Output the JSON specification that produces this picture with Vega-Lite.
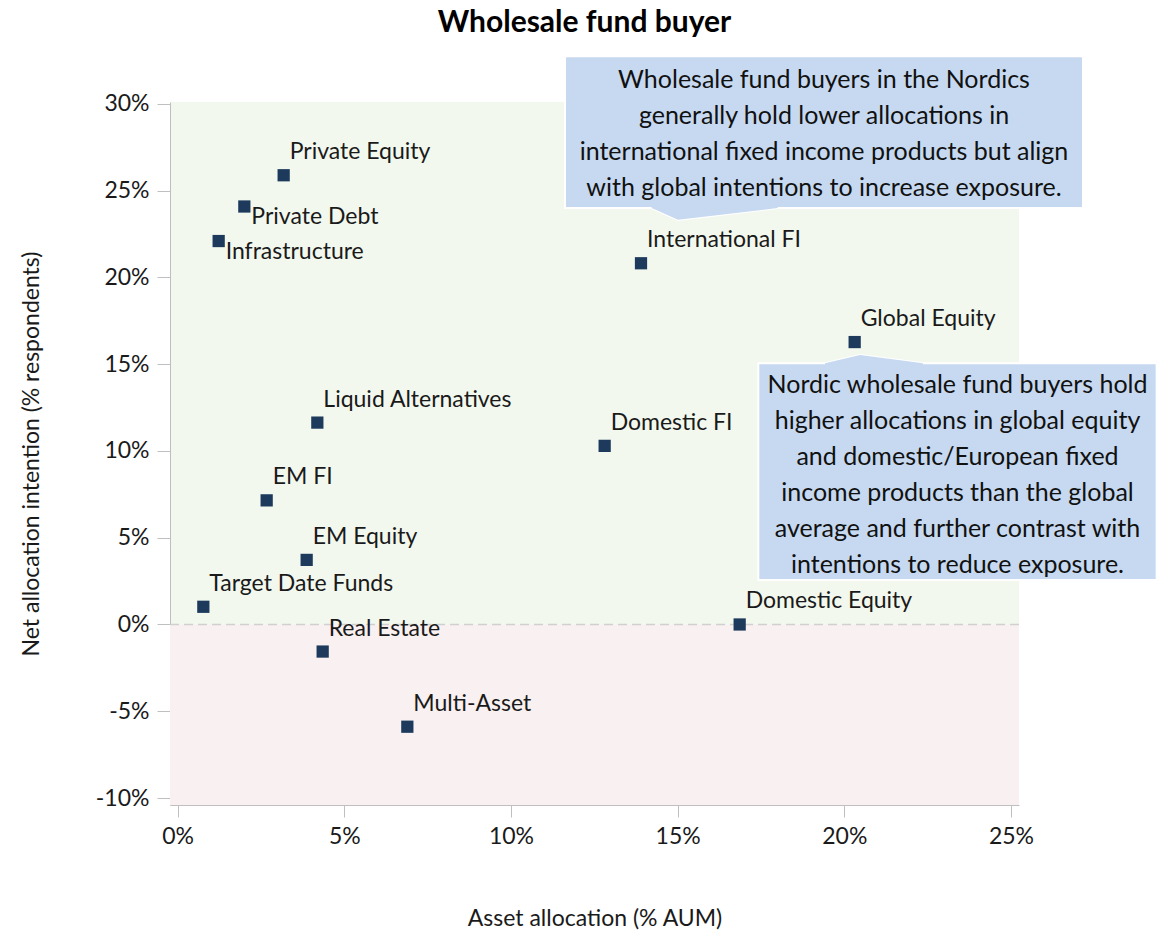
{
  "$schema": "https://vega.github.io/schema/vega-lite/v6.json",
  "width": 849,
  "height": 703,
  "autosize": {"type": "none"},
  "padding": {"left": 170, "top": 102, "right": 151, "bottom": 128},
  "background": "white",
  "config": {
    "font": "Lato",
    "view": {"fill": "#f3f8ee", "stroke": null},
    "axis": {"grid": false, "domainColor": "#bfbfbf", "tickColor": "#bfbfbf", "labelFont": "Lato", "titleFont": "Lato", "labelColor": "#1a1a1a", "titleColor": "#1a1a1a", "labelFontSize": 23, "titleFontSize": 23, "titleFontWeight": "normal"}
  },
  "title": {"text": "Wholesale fund buyer", "font": "Lato", "fontSize": 30, "fontWeight": "bold", "color": "#000000", "anchor": "middle", "frame": "group", "dx": -10, "offset": 17},
  "datasets": {
    "points": [
      {"name": "Private Equity", "alloc": 3.18, "intent": 25.88, "pos": "above"},
      {"name": "Private Debt", "alloc": 2.0, "intent": 24.08, "pos": "below"},
      {"name": "Infrastructure", "alloc": 1.23, "intent": 22.09, "pos": "below"},
      {"name": "International FI", "alloc": 13.9, "intent": 20.81, "pos": "above"},
      {"name": "Global Equity", "alloc": 20.31, "intent": 16.27, "pos": "above"},
      {"name": "Liquid Alternatives", "alloc": 4.19, "intent": 11.63, "pos": "above"},
      {"name": "Domestic FI", "alloc": 12.81, "intent": 10.29, "pos": "above"},
      {"name": "EM FI", "alloc": 2.67, "intent": 7.15, "pos": "above"},
      {"name": "EM Equity", "alloc": 3.87, "intent": 3.72, "pos": "above"},
      {"name": "Target Date Funds", "alloc": 0.77, "intent": 1.02, "pos": "above"},
      {"name": "Domestic Equity", "alloc": 16.86, "intent": 0.0, "pos": "above"},
      {"name": "Real Estate", "alloc": 4.35, "intent": -1.56, "pos": "above"},
      {"name": "Multi-Asset", "alloc": 6.89, "intent": -5.89, "pos": "above"}
    ],
    "boxes": [
      {"id": "a", "x1": 11.62, "x2": 27.16, "y1": 23.99, "y2": 32.73, "cx": 19.39, "cy": 31.38, "lines": ["Wholesale fund buyers in the Nordics", "generally hold lower allocations in", "international fixed income products but align", "with global intentions to increase exposure."]},
      {"id": "b", "x1": 17.42, "x2": 29.37, "y1": 2.56, "y2": 15.05, "cx": 23.395, "cy": 13.8, "lines": ["Nordic wholesale fund buyers hold", "higher allocations in global equity", "and domestic/European fixed", "income products than the global", "average and further contrast with", "intentions to reduce exposure."]}
    ],
    "pointers": [
      {"id": "a", "px": 14.22, "py": 23.99, "base": 24.2},
      {"id": "a", "px": 15.01, "py": 23.31, "base": 24.2},
      {"id": "a", "px": 18.0, "py": 23.99, "base": 24.2},
      {"id": "b", "px": 19.42, "py": 15.05, "base": 14.85},
      {"id": "b", "px": 20.47, "py": 15.53, "base": 14.85},
      {"id": "b", "px": 22.36, "py": 15.05, "base": 14.85}
    ]
  },
  "layer": [
    {
      "data": {"values": [{"lo": -10.4, "hi": 0}]},
      "mark": {"type": "rect", "color": "#f9f0f1"},
      "encoding": {
        "x": {"datum": -0.23, "type": "quantitative"},
        "x2": {"datum": 25.24},
        "y": {"field": "lo", "type": "quantitative"},
        "y2": {"field": "hi"}
      }
    },
    {
      "data": {"values": [{"zero": 0}]},
      "mark": {"type": "rule", "color": "#d0d0d0", "strokeWidth": 1.5, "strokeDash": [9, 5]},
      "encoding": {"y": {"field": "zero", "type": "quantitative"}}
    },
    {
      "data": {"name": "points"},
      "mark": {"type": "square", "filled": true, "size": 150, "color": "#1d3a5c", "opacity": 1},
      "encoding": {
        "x": {"field": "alloc", "type": "quantitative", "title": "Asset allocation (% AUM)",
          "scale": {"domain": [-0.23, 25.24], "nice": false, "zero": false},
          "axis": {"values": [0, 5, 10, 15, 20, 25], "labelExpr": "datum.value + '%'", "tickSize": 12, "labelPadding": 8, "titlePadding": 59}},
        "y": {"field": "intent", "type": "quantitative", "title": "Net allocation intention (% respondents)",
          "scale": {"domain": [-10.4, 30.1], "nice": false, "zero": false},
          "axis": {"values": [-10, -5, 0, 5, 10, 15, 20, 25, 30], "labelExpr": "datum.value + '%'", "tickSize": 13, "labelPadding": 8, "titlePadding": 52}}
      }
    },
    {
      "data": {"name": "points"},
      "transform": [{"filter": "datum.pos === 'above'"}],
      "mark": {"type": "text", "align": "left", "baseline": "alphabetic", "dx": 6, "dy": -16, "fontSize": 23, "color": "#1a1a1a"},
      "encoding": {
        "x": {"field": "alloc", "type": "quantitative"},
        "y": {"field": "intent", "type": "quantitative"},
        "text": {"field": "name"}
      }
    },
    {
      "data": {"name": "points"},
      "transform": [{"filter": "datum.pos === 'below'"}],
      "mark": {"type": "text", "align": "left", "baseline": "alphabetic", "dx": 7, "dy": 18, "fontSize": 23, "color": "#1a1a1a"},
      "encoding": {
        "x": {"field": "alloc", "type": "quantitative"},
        "y": {"field": "intent", "type": "quantitative"},
        "text": {"field": "name"}
      }
    },
    {
      "data": {"name": "pointers"},
      "mark": {"type": "area", "color": "#c6d9f0", "stroke": "white", "strokeWidth": 2, "clip": false},
      "encoding": {
        "x": {"field": "px", "type": "quantitative"},
        "y": {"field": "py", "type": "quantitative"},
        "y2": {"field": "base"},
        "detail": {"field": "id"}
      }
    },
    {
      "data": {"name": "boxes"},
      "mark": {"type": "rect", "color": "#c6d9f0", "stroke": "white", "strokeWidth": 2},
      "encoding": {
        "x": {"field": "x1", "type": "quantitative"},
        "x2": {"field": "x2"},
        "y": {"field": "y1", "type": "quantitative"},
        "y2": {"field": "y2"}
      }
    },
    {
      "data": {"name": "pointers"},
      "mark": {"type": "area", "color": "#c6d9f0"},
      "encoding": {
        "x": {"field": "px", "type": "quantitative"},
        "y": {"field": "py", "type": "quantitative"},
        "y2": {"field": "base"},
        "detail": {"field": "id"}
      }
    },
    {
      "data": {"name": "boxes"},
      "mark": {"type": "text", "align": "center", "baseline": "middle", "fontSize": 25, "lineHeight": 36, "color": "#111111"},
      "encoding": {
        "x": {"field": "cx", "type": "quantitative"},
        "y": {"field": "cy", "type": "quantitative"},
        "text": {"field": "lines"}
      }
    }
  ]
}
